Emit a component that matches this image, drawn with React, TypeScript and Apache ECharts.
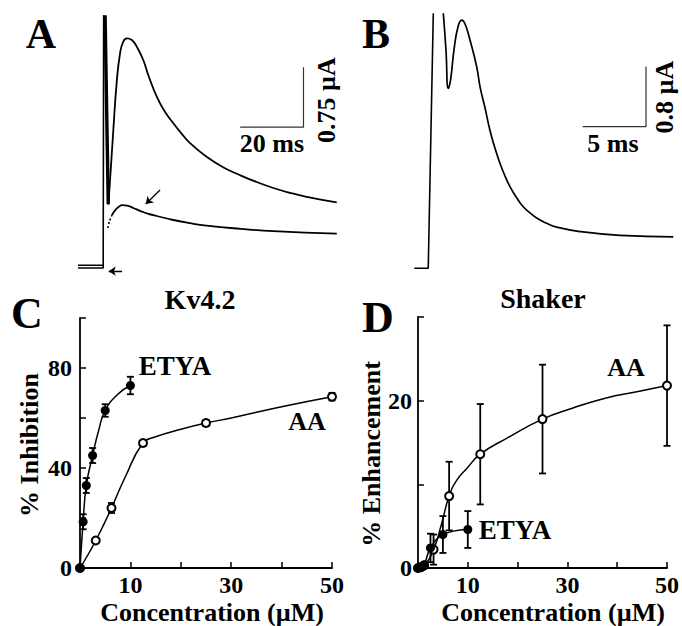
import React, { useEffect, useRef } from "react";
import * as echarts from "echarts";

// ---------- Panel A (Kv4.2 current traces), time in ms, current in µA ----------
const aRiseT = [0, 7.95, 8.1];
const aRiseI = [0, 0, 3.16];
const aBase2T = [0, 8.0];
const aBase2I = [0.035, 0.035];
const aSpikeT = [8.55, 8.75, 9.55];
const aSpikeI = [3.16, 3.16, 0.8];
const aCtrlT = [9.6, 11.1, 12.2, 13.3, 14.3, 15.4, 17.0, 18.5, 20.6, 22.2, 24.9, 27.5, 30.1, 32.7, 35.4, 40.6, 45.8, 51.2, 56.4, 61.7, 66.9, 72.2, 81.7];
const aCtrlI = [0.79, 1.69, 2.31, 2.69, 2.83, 2.87, 2.85, 2.77, 2.6, 2.41, 2.14, 1.95, 1.81, 1.68, 1.56, 1.39, 1.26, 1.16, 1.075, 1.0, 0.94, 0.89, 0.82];
const aAADotT = [9.4, 9.9, 10.7];
const aAADotI = [0.5, 0.58, 0.66];
const aAAT = [10.7, 11.7, 12.7, 14.0, 15.5, 17.5, 19.6, 22.0, 24.9, 30.1, 35.4, 40.6, 51.2, 61.7, 81.7];
const aAAI = [0.66, 0.72, 0.76, 0.785, 0.78, 0.75, 0.715, 0.68, 0.65, 0.6, 0.56, 0.53, 0.49, 0.46, 0.43];

// ---------- Panel B (Shaker current trace) ----------
const bRiseT = [0, 1.1, 1.5];
const bRiseI = [0, 0, 3.4];
const bTraceT = [2.29, 2.5, 2.68, 2.86, 3.13, 3.45, 3.74, 4.0, 4.4, 4.92, 5.19, 5.58, 5.97, 6.37, 6.76, 7.16, 7.55, 8.08, 8.6, 9.13, 9.66, 10.45, 11.24, 13.08, 16.24, 20.44];
const bTraceI = [3.4, 2.91, 2.4, 2.51, 2.91, 3.22, 3.31, 3.26, 3.04, 2.69, 2.42, 2.14, 1.84, 1.6, 1.4, 1.23, 1.09, 0.94, 0.82, 0.74, 0.67, 0.6, 0.55, 0.49, 0.44, 0.42];

// ---------- Panel C (Kv4.2 % inhibition) ----------
const concEtyaC = [0, 0.625, 1.25, 2.5, 5, 10];
const inhEtyaC = [0, 18.5, 33, 45, 63, 73];
const errEtyaC = [0, 3, 3, 3, 2.5, 3.5];
const concAAC = [0, 3.125, 6.25, 12.5, 25, 50];
const inhAAC = [0, 11, 24, 50, 58, 68.5];
const errAAC = [0, 0.8, 2, 1, 1.2, 1.5];
// fitted curves
const fitEtyaCx = [0, 0.625, 1.25, 2.5, 3.7, 5, 7.5, 10];
const fitEtyaCy = [0, 18.5, 33, 45, 55, 63, 69.5, 73];
const fitAACx = [0, 1.5, 3.125, 4.5, 6.25, 9, 12.5, 15, 20, 25, 30, 40, 50];
const fitAACy = [0, 5, 11, 16.5, 24, 36.5, 50, 52.5, 55.5, 58, 60, 64.5, 68.5];

// ---------- Panel D (Shaker % enhancement) ----------
const concEtyaD = [0, 0.625, 1.25, 2.5, 5, 10];
const enhEtyaD = [0, 0.1, 0.4, 2.4, 4.0, 4.6];
const errEtyaD = [0, 0, 0.3, 1.7, 2.2, 2.2];
const concAAD = [0, 0.625, 1.25, 3.125, 6.25, 12.5, 25, 50];
const enhAAD = [0, 0.1, 0.3, 2.2, 8.6, 13.6, 17.8, 21.8];
const errAAD = [0, 0, 0, 1.8, 4.1, 6, 6.5, 7.2];
const fitEtyaDx = [0, 0.625, 1.25, 2.5, 5, 10];
const fitEtyaDy = [0, 0.1, 0.4, 2.4, 4.0, 4.6];
const fitAADx = [0, 1.25, 3.125, 4.7, 6.25, 7.8, 9.8, 12.5, 17.8, 25, 31, 37.6, 44.2, 50];
const fitAADy = [0, 0.3, 2.2, 5.2, 8.6, 10.5, 11.9, 13.6, 15.5, 17.8, 19.1, 20.3, 21.1, 21.8];

const FONT = '"Liberation Serif", "Times New Roman", serif';
const zip = (xs: number[], ys: number[]) => xs.map((x, i) => [x, ys[i]]);
const zip3 = (xs: number[], ys: number[], es: number[]) => xs.map((x, i) => [x, ys[i], es[i]]);

function errorSeries(data: number[][], idx: number, cap: number) {
  return {
    type: "custom",
    xAxisIndex: idx,
    yAxisIndex: idx,
    z: 1,
    clip: false,
    data,
    renderItem: (params: any, api: any) => {
      const x = api.value(0);
      const y = api.value(1);
      const e = api.value(2);
      if (!e) return null;
      const t = api.coord([x, y + e]);
      const b = api.coord([x, Math.max(0, y - e)]);
      const st = { stroke: "#000", lineWidth: 1.8 };
      return {
        type: "group",
        children: [
          { type: "line", shape: { x1: t[0], y1: t[1], x2: b[0], y2: b[1] }, style: st },
          { type: "line", shape: { x1: t[0] - cap, y1: t[1], x2: t[0] + cap, y2: t[1] }, style: st },
          { type: "line", shape: { x1: b[0] - cap, y1: b[1], x2: b[0] + cap, y2: b[1] }, style: st },
        ],
      };
    },
  };
}

function traceLine(data: number[][], idx: number, smooth: number | boolean, width = 1.8, type: any = "solid") {
  return {
    type: "line",
    xAxisIndex: idx,
    yAxisIndex: idx,
    data,
    smooth,
    showSymbol: false,
    symbol: "none",
    lineStyle: { color: "#000", width, type },
    z: 2,
  };
}

function markers(data: number[][], idx: number, filled: boolean) {
  return {
    type: "scatter",
    xAxisIndex: idx,
    yAxisIndex: idx,
    data,
    clip: false,
    symbol: filled ? "circle" : "emptyCircle",
    symbolSize: filled ? 9 : 8,
    itemStyle: { color: "#000", borderColor: "#000", borderWidth: filled ? 0 : 1.7, opacity: 1 },
    z: 4,
  };
}

function txt(text: string, x: number, y: number, size: number, rotate = false) {
  return {
    type: "text",
    x,
    y,
    rotation: rotate ? Math.PI / 2 : 0,
    style: {
      text,
      font: `bold ${size}px ${FONT}`,
      fill: "#000",
      textAlign: "center",
      textVerticalAlign: "middle",
      lineHeight: Math.round(size * 0.85),
    },
  };
}

const hidden = { show: false };

export default function App() {
  const ref = useRef<HTMLDivElement>(null);
  useEffect(() => {
    if (!ref.current) return;
    const chart = echarts.init(ref.current, null, { renderer: "svg" });
    const axisLine = { show: true, onZero: false, lineStyle: { color: "#000", width: 1.8 } };
    const axisTick = { show: true, inside: true, length: 6, lineStyle: { color: "#000", width: 1.5 } };
    const labelStyle = { color: "#000", fontFamily: FONT, fontWeight: "bold", fontSize: 24, lineHeight: 18 };
    const xLab = (v: number) => ((v / 10) % 2 === 1 ? String(v) : "");
    chart.setOption({
      animation: false,
      backgroundColor: "#fff",
      grid: [
        { left: 78, top: 12, width: 259.7, height: 264 },
        { left: 414.3, top: 13.3, width: 261, height: 262.5 },
        { left: 80, top: 318, width: 252, height: 250 },
        { left: 418, top: 317, width: 251, height: 251 },
      ],
      xAxis: [
        { gridIndex: 0, type: "value", min: 0, max: 82, ...hidden },
        { gridIndex: 1, type: "value", min: 0, max: 20.6, ...hidden },
        {
          gridIndex: 2, type: "value", min: 0, max: 50, interval: 10,
          axisLine, axisTick, splitLine: { show: false },
          axisLabel: { ...labelStyle, margin: 8, formatter: xLab },
        },
        {
          gridIndex: 3, type: "value", min: 0, max: 50, interval: 10,
          axisLine, axisTick, splitLine: { show: false },
          axisLabel: { ...labelStyle, margin: 8, formatter: xLab },
        },
      ],
      yAxis: [
        { gridIndex: 0, type: "value", min: -0.1, max: 3.2, ...hidden },
        { gridIndex: 1, type: "value", min: -0.1, max: 3.4, ...hidden },
        {
          gridIndex: 2, type: "value", min: 0, max: 100, interval: 20,
          axisLine, axisTick, splitLine: { show: false },
          axisLabel: { ...labelStyle, margin: 8, formatter: (v: number) => (v % 40 === 0 && v < 100 ? String(v) : "") },
        },
        {
          gridIndex: 3, type: "value", min: 0, max: 30, interval: 10,
          axisLine, axisTick, splitLine: { show: false },
          axisLabel: { ...labelStyle, margin: 6, formatter: (v: number) => (v % 20 === 0 ? String(v) : "") },
        },
      ],
      series: [
        // Panel A
        traceLine(zip(aRiseT, aRiseI), 0, false, 1.6),
        traceLine(zip(aBase2T, aBase2I), 0, false, 1.6),
        traceLine(zip(aSpikeT, aSpikeI), 0, false, 3.4),
        traceLine(zip(aCtrlT, aCtrlI), 0, 0.5, 1.8),
        traceLine(zip(aAADotT, aAADotI), 0, 0.3, 1.6, [2, 2]),
        traceLine(zip(aAAT, aAAI), 0, 0.5, 1.8),
        { ...traceLine([[51.2, 1.76], [71.2, 1.76], [71.2, 2.51]], 0, false, 1.2), lineStyle: { color: "#333", width: 1.2 } },
        {
          type: "lines", coordinateSystem: "cartesian2d", xAxisIndex: 0, yAxisIndex: 0,
          symbol: ["none", "arrow"], symbolSize: 7,
          lineStyle: { color: "#000", width: 1.3, opacity: 1 },
          data: [
            { coords: [[25.9, 0.975], [21.4, 0.8]] },
            { coords: [[13.9, -0.04], [9.7, -0.04]] },
          ],
        },
        // Panel B
        traceLine(zip(bRiseT, bRiseI), 1, false, 1.6),
        traceLine(zip(bTraceT, bTraceI), 1, 0.5, 1.7),
        { ...traceLine([[13.29, 1.89], [18.29, 1.89], [18.29, 2.69]], 1, false, 1.2), lineStyle: { color: "#333", width: 1.2 } },
        // Panel C
        { ...traceLine(zip(fitEtyaCx, fitEtyaCy), 2, 0.5, 1.5), clip: false },
        { ...traceLine(zip(fitAACx, fitAACy), 2, 0.5, 1.5), clip: false },
        errorSeries(zip3(concEtyaC, inhEtyaC, errEtyaC), 2, 3.5),
        errorSeries(zip3(concAAC, inhAAC, errAAC), 2, 3.5),
        markers(zip(concAAC, inhAAC), 2, false),
        markers(zip(concEtyaC, inhEtyaC), 2, true),
        // Panel D
        { ...traceLine(zip(fitAADx, fitAADy), 3, 0.5, 1.5), clip: false },
        { ...traceLine(zip(fitEtyaDx, fitEtyaDy), 3, 0.4, 1.5), clip: false },
        errorSeries(zip3(concAAD, enhAAD, errAAD), 3, 3.5),
        errorSeries(zip3(concEtyaD, enhEtyaD, errEtyaD), 3, 3.5),
        markers(zip(concAAD, enhAAD), 3, false),
        markers(zip(concEtyaD, enhEtyaD), 3, true),
      ],
      graphic: [
        txt("A", 41, 34, 42),
        txt("B", 376, 34, 42),
        txt("C", 27, 313, 44),
        txt("D", 378, 317, 44),
        txt("20 ms", 272, 143, 26),
        txt("0.75 µA", 326, 100, 26, true),
        txt("5 ms", 613, 143, 26),
        txt("0.8 µA", 664, 97, 26, true),
        txt("Kv4.2", 200, 299, 28),
        txt("Shaker", 543, 298, 28),
        txt("% Inhibition", 29, 445, 26, true),
        txt("% Enhancement", 371, 454, 26, true),
        txt("Concentration (µM)", 212, 612, 26),
        txt("Concentration (µM)", 553, 612, 26),
        txt("ETYA", 175, 366, 27),
        txt("AA", 307, 421, 26),
        txt("AA", 626, 367, 26),
        txt("ETYA", 515, 530, 27),
      ],
    });
    return () => chart.dispose();
  }, []);
  return (
    <div
      ref={ref}
      style={{ position: "fixed", left: 0, top: 0, width: 682, height: 626 }}
    />
  );
}
